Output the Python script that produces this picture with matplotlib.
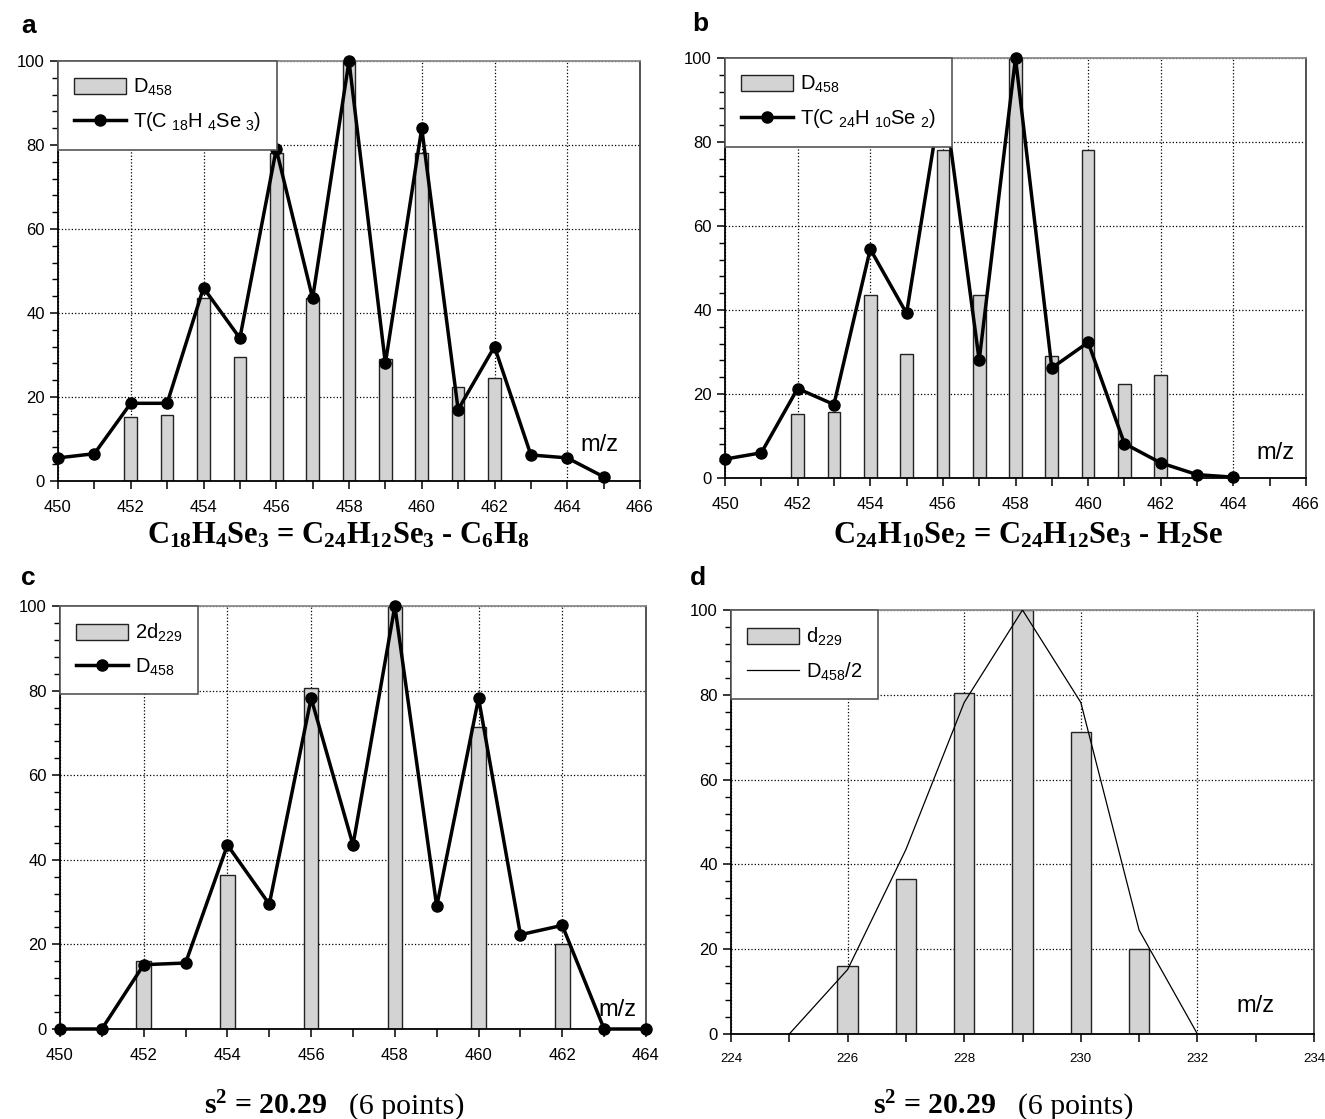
import matplotlib
matplotlib.use('Agg')
import matplotlib.pyplot as plt
import numpy as np
from matplotlib.ticker import MultipleLocator

# --- DATOS ---
masas = np.arange(450, 466)            # m/z 450..465
# D458 (espectro experimental, 450..464)
masas_D = np.arange(450, 465)
D458 = [0, 0, 15.2, 15.6, 43.5, 29.5, 78.2, 43.5, 100, 29.0, 78.2, 22.3, 24.5, 0, 0]

# T(C18H4Se3), 450..465
T_a = [5.5, 6.5, 18.5, 18.5, 46.0, 34.0, 79.0, 43.5, 100, 28.0, 84.0, 17.0, 32.0, 6.2, 5.5, 1.0]
# T(C24H10Se2), 450..464
masas_b = np.arange(450, 465)
T_b = [4.5, 6.0, 21.3, 17.5, 54.5, 39.2, 92.8, 28.0, 100, 26.2, 32.3, 8.2, 3.6, 0.8, 0.2]

# d229 (ion 229), 226..231
masas_d = np.arange(226, 232)
d229 = [16.0, 36.5, 80.5, 100, 71.3, 20.0]

# --- ESTILO ---
plt.rcParams['font.family'] = ['Liberation Sans', 'DejaVu Sans']
plt.rcParams['mathtext.fontset'] = 'custom'
plt.rcParams['mathtext.rm'] = 'Liberation Serif'
plt.rcParams['mathtext.bf'] = 'Liberation Serif:bold'
plt.rcParams['mathtext.it'] = 'Liberation Serif:italic'
plt.rcParams['mathtext.sf'] = 'Liberation Sans'

gris = '#d3d3d3'
ancho = 0.35

fig = plt.figure(figsize=(13.25, 11.19), dpi=100)
W, H = 1325, 1119


def ejes(izq, der, arriba, abajo):
    return fig.add_axes([izq / W, 1 - abajo / H, (der - izq) / W, (abajo - arriba) / H])


def formato(ax, xmin, xmax, fs_x=12):
    ax.set_xlim(xmin, xmax)
    ax.set_ylim(0, 100)
    ax.xaxis.set_major_locator(MultipleLocator(2))
    ax.xaxis.set_minor_locator(MultipleLocator(1))
    ax.yaxis.set_major_locator(MultipleLocator(20))
    ax.yaxis.set_minor_locator(MultipleLocator(4))
    ax.tick_params(axis='x', which='both', direction='out', length=6, width=1.1, labelsize=fs_x, pad=8)
    ax.tick_params(axis='y', which='major', direction='out', length=6, width=1.1, labelsize=12)
    ax.tick_params(axis='y', which='minor', direction='out', length=4, width=1.0)
    ax.set_axisbelow(True)
    ax.grid(True, which='major', linestyle=':', color='black', linewidth=0.9)
    ax.spines['top'].set_color('#8a8a8a')
    ax.spines['right'].set_color('#444444')
    for s in ['left', 'bottom']:
        ax.spines[s].set_color('black')
    for s in ax.spines.values():
        s.set_linewidth(1.3)


def leyenda(ax, handles, fs=14.5):
    leg = ax.legend(handles=handles, loc='upper left', bbox_to_anchor=(0, 1), borderaxespad=0,
                    fontsize=fs, handlelength=2.6, handleheight=0.8,
                    borderpad=0.8, labelspacing=0.6, handletextpad=0.3,
                    fancybox=False, framealpha=1, edgecolor='#555555')
    leg.get_frame().set_linewidth(1.2)
    return leg


etiqueta_D = r'$\mathsf{D_{458}}$'
D_arr = np.array(D458)
mask = D_arr > 0

# --- a ---
ax = ejes(58, 640, 61, 481)
barras = ax.bar(masas_D[mask], D_arr[mask], width=ancho, color=gris, edgecolor='#222222',
                linewidth=1, label=etiqueta_D, zorder=2)
linea, = ax.plot(masas, T_a, '-o', color='black', lw=2.5, ms=8, clip_on=False, zorder=3,
                 label=r'$\mathsf{T(C\ _{18}H\ _{4}Se\ _{3})}$')
formato(ax, 450, 466)
leyenda(ax, [barras, linea])
ax.text(0.931, 0.086, 'm/z', transform=ax.transAxes, ha='center', va='center', fontsize=17)

# --- b ---
ax = ejes(725, 1306, 58, 478)
barras = ax.bar(masas_D[mask], D_arr[mask], width=ancho, color=gris, edgecolor='#222222',
                linewidth=1, label=etiqueta_D, zorder=2)
linea, = ax.plot(masas_b, T_b, '-o', color='black', lw=2.5, ms=8, clip_on=False, zorder=3,
                 label=r'$\mathsf{T(C\ _{24}H\ _{10}Se\ _{2})}$')
formato(ax, 450, 466)
leyenda(ax, [barras, linea])
ax.text(0.948, 0.06, 'm/z', transform=ax.transAxes, ha='center', va='center', fontsize=17)

# --- c ---
ax = ejes(60, 646, 606, 1029)
barras = ax.bar(2 * masas_d, d229, width=ancho, color=gris, edgecolor='#222222',
                linewidth=1, label=r'$\mathsf{2d_{229}}$', zorder=2)
linea, = ax.plot(masas_D, D458, '-o', color='black', lw=2.5, ms=8, clip_on=False, zorder=3,
                 label=etiqueta_D)
formato(ax, 450, 464)
leyenda(ax, [barras, linea])
ax.text(0.952, 0.045, 'm/z', transform=ax.transAxes, ha='center', va='center', fontsize=17)

# --- d ---
ax = ejes(731, 1314, 610, 1034)
pares = masas_D[::2]
D_pares = D_arr[::2]
barras = ax.bar(masas_d, d229, width=ancho, color=gris, edgecolor='#222222',
                linewidth=1, label=r'$\mathsf{d_{229}}$', zorder=2)
linea, = ax.plot(pares / 2, D_pares, '-', color='black', lw=0.9, zorder=3,
                 label=r'$\mathsf{D_{458}/2}$')
formato(ax, 224, 234, fs_x=9.5)
leyenda(ax, [barras, linea])
ax.text(0.90, 0.066, 'm/z', transform=ax.transAxes, ha='center', va='center', fontsize=17)

# --- textos de la figura ---
for letra, x, y in [('a', 21, 26), ('b', 692, 24), ('c', 21, 578), ('d', 690, 578)]:
    fig.text(x / W, 1 - y / H, letra, fontsize=19, fontweight='bold', ha='left', va='center')

titulo_a = 'C$_\\mathbf{18}$H$_\\mathbf{4}$Se$_\\mathbf{3}$ = C$_\\mathbf{24}$H$_\\mathbf{12}$Se$_\\mathbf{3}$ - C$_\\mathbf{6}$H$_\\mathbf{8}$'
titulo_b = 'C$_\\mathbf{24}$H$_\\mathbf{10}$Se$_\\mathbf{2}$ = C$_\\mathbf{24}$H$_\\mathbf{12}$Se$_\\mathbf{3}$ - H$_\\mathbf{2}$Se'
fig.text(338 / W, 1 - 543 / H, titulo_a, fontsize=22, fontweight='bold',
         family='Liberation Serif', ha='center', va='baseline')
fig.text(1028 / W, 1 - 543 / H, titulo_b, fontsize=22, fontweight='bold',
         family='Liberation Serif', ha='center', va='baseline')

for x_fin, x_par in [(327, 349), (996, 1018)]:
    fig.text(x_fin / W, 1 - 1114 / H, 's$^\\mathbf{2}$ = 20.29', fontsize=21.5, fontweight='bold',
             family='Liberation Serif', ha='right', va='baseline')
    fig.text(x_par / W, 1 - 1114 / H, '(6 points)', fontsize=21.5,
             family='Liberation Serif', ha='left', va='baseline')

fig.savefig('out.png', dpi=100)
